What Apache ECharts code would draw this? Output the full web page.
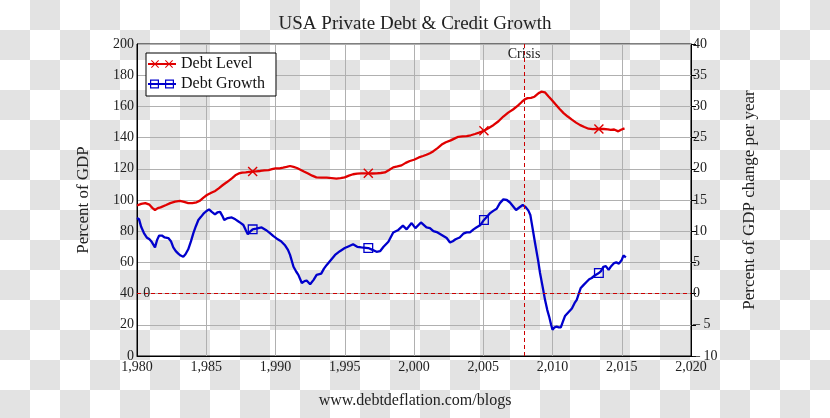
<!DOCTYPE html>
<html>
<head>
<meta charset="utf-8">
<script src="https://cdn.jsdelivr.net/npm/echarts@6/dist/echarts.min.js"></script>
<style>
html,body{margin:0;padding:0;width:830px;height:418px;overflow:hidden;
background:repeating-conic-gradient(#e3e3e3 0 25%, #ffffff 0 50%) 0 0/60px 60px;}
#c{width:830px;height:418px;}
</style>
</head>
<body>
<div id="c"></div>
<script>
// ---- data ----
const levelYears = [1980.0,1980.3,1980.6,1980.9,1981.1,1981.3,1981.5,1981.7,1982.1,1982.4,1982.75,1983.1,1983.4,1983.7,1984.0,1984.3,1984.55,1984.8,1985.05,1985.4,1985.65,1985.9,1986.2,1986.5,1986.85,1987.1,1987.35,1987.6,1987.85,1988.1,1988.35,1988.6,1988.9,1989.2,1989.5,1989.75,1990.0,1990.3,1990.55,1990.8,1991.05,1991.3,1991.55,1991.8,1992.05,1992.35,1992.65,1992.95,1993.3,1993.7,1994.05,1994.4,1994.7,1995.0,1995.3,1995.6,1995.9,1996.2,1996.7,1997.0,1997.3,1997.6,1997.9,1998.2,1998.5,1998.8,1999.1,1999.4,1999.7,2000.0,2000.35,2000.65,2000.9,2001.15,2001.4,2001.7,2002.0,2002.3,2002.65,2002.95,2003.2,2003.5,2003.8,2004.1,2004.4,2004.7,2005.05,2005.4,2005.75,2006.1,2006.45,2006.8,2007.15,2007.5,2007.8,2008.0,2008.2,2008.45,2008.7,2009.0,2009.2,2009.45,2009.7,2009.95,2010.2,2010.5,2010.8,2011.1,2011.4,2011.7,2012.0,2012.3,2012.6,2012.9,2013.15,2013.35,2013.7,2014.0,2014.2,2014.45,2014.75,2014.95,2015.2];
const levelValues = [96.5,97.5,98.0,97.0,95.0,93.6,94.8,95.3,96.8,98.0,98.9,99.4,98.8,98.0,98.0,98.5,99.6,101.5,103.2,104.8,105.8,107.5,109.6,111.5,113.9,115.8,117.0,117.5,117.7,118.0,118.2,118.4,118.6,119.0,119.2,119.8,120.3,120.3,120.7,121.2,121.8,121.2,120.5,119.4,118.3,117.0,115.6,114.5,114.3,114.3,114.0,113.7,114.0,114.5,115.6,116.5,116.9,117.1,117.1,117.0,117.1,117.3,117.7,119.2,120.9,121.5,122.2,123.8,125.0,125.8,127.3,128.2,129.0,130.0,131.3,133.3,135.5,137.0,138.2,139.5,140.5,140.8,141.0,141.5,142.3,143.2,144.4,146.2,148.1,150.5,153.5,156.0,158.0,160.5,163.0,164.5,165.3,165.5,166.2,168.5,169.4,169.0,166.5,164.1,161.5,158.5,155.7,153.5,151.5,149.6,148.0,146.8,145.7,145.4,145.5,145.5,145.5,145.3,145.0,145.2,144.0,145.0,145.9];

const growthYears = [1980.0,1980.15,1980.3,1980.5,1980.7,1980.9,1981.06,1981.3,1981.45,1981.6,1981.8,1982.0,1982.26,1982.45,1982.62,1982.8,1982.98,1983.15,1983.34,1983.5,1983.7,1983.9,1984.07,1984.25,1984.43,1984.62,1984.8,1985.0,1985.2,1985.4,1985.63,1985.8,1986.0,1986.15,1986.3,1986.55,1986.84,1987.1,1987.3,1987.5,1987.68,1987.85,1988.0,1988.15,1988.35,1988.6,1989.0,1989.3,1989.6,1989.85,1990.1,1990.4,1990.7,1990.9,1991.05,1991.3,1991.5,1991.65,1991.9,1992.1,1992.25,1992.5,1992.75,1992.97,1993.3,1993.5,1993.7,1994.0,1994.3,1994.65,1995.0,1995.3,1995.6,1995.9,1996.2,1996.7,1997.0,1997.3,1997.55,1997.8,1998.15,1998.5,1998.87,1999.2,1999.47,1999.83,2000.1,2000.5,2000.9,2001.15,2001.4,2001.7,2002.0,2002.36,2002.6,2002.8,2003.0,2003.3,2003.56,2003.8,2004.04,2004.3,2004.5,2004.8,2005.05,2005.3,2005.5,2005.75,2005.97,2006.2,2006.45,2006.7,2006.93,2007.15,2007.37,2007.6,2007.85,2008.05,2008.26,2008.4,2008.5,2008.74,2008.97,2009.1,2009.33,2009.46,2009.62,2009.77,2009.9,2010.0,2010.15,2010.3,2010.45,2010.6,2010.75,2010.9,2011.15,2011.4,2011.6,2011.75,2011.9,2012.04,2012.25,2012.47,2012.65,2012.83,2013.05,2013.35,2013.5,2013.67,2013.85,2014.05,2014.2,2014.45,2014.6,2014.8,2015.0,2015.12,2015.3];
const growthValues = [12.1,11.9,10.7,9.7,9.0,8.7,8.3,7.4,8.6,9.3,9.3,9.0,8.9,8.4,7.4,6.8,6.4,6.1,5.9,6.3,7.1,8.4,9.7,10.8,11.8,12.3,12.8,13.2,13.5,13.1,12.7,13.0,13.1,12.5,11.8,12.1,12.2,11.9,11.6,11.3,11.0,10.2,9.5,9.9,10.3,10.4,10.6,10.2,9.7,9.2,8.8,8.4,7.7,7.0,6.2,4.3,3.5,3.0,1.7,2.0,2.1,1.5,2.2,3.0,3.2,4.0,4.6,5.4,6.2,6.8,7.3,7.6,7.9,7.5,7.4,7.3,7.0,6.7,6.8,7.5,8.3,9.8,10.2,10.9,10.3,11.3,10.5,11.4,10.6,10.5,10.0,9.8,9.4,8.9,8.2,8.4,8.7,9.0,9.6,9.8,9.8,10.3,10.6,11.0,11.8,12.4,12.9,13.3,13.6,14.5,15.1,15.0,14.6,14.0,13.4,13.8,14.2,13.9,13.3,12.6,11.3,8.1,5.2,3.3,0.6,-1.0,-2.6,-3.8,-5.0,-5.8,-5.4,-5.3,-5.4,-5.4,-4.5,-3.6,-3.0,-2.4,-1.5,-1.0,0.0,0.9,1.4,1.9,2.3,2.5,2.9,3.3,3.6,4.3,4.4,3.8,4.3,4.9,5.0,4.8,5.4,6.1,5.8];

const markerYears = [1988.35, 1996.7, 2005.05, 2013.35];
const crisisYear = 2007.95;
const xTicks = [1980, 2020, 5];      // min, max, step
const leftTicks = [0, 200, 20];
const rightTicks = [-10, 40, 5];

// ---- styling ----
const FONT = "'Liberation Serif','Times New Roman',serif";
const RED = '#e00000', BLUE = '#0000cc', DASH = '#cc0000';
const X_SYM = 'path://M0,1 L1,0 L5,4 L9,0 L10,1 L6,5 L10,9 L9,10 L5,6 L1,10 L0,9 L4,5 Z';
const SQ_SYM = 'path://M0,0 H10 V10 H0 Z M1.3,1.3 V8.7 H8.7 V1.3 Z';
const RED_ICON = 'path://M0,5.1 H28 V6.9 H0 Z M3,2.7 L3.7,2 L7,5.3 L10.3,2 L11,2.7 L7.7,6 L11,9.3 L10.3,10 L7,6.7 L3.7,10 L3,9.3 L6.3,6 Z M17,2.7 L17.7,2 L21,5.3 L24.3,2 L25,2.7 L21.7,6 L25,9.3 L24.3,10 L21,6.7 L17.7,10 L17,9.3 L20.3,6 Z';
const BLUE_ICON = 'path://M0,5.1 H28 V6.9 H0 Z M2,1.5 H11 V10.5 H2 Z M3.2,2.7 V9.3 H9.8 V2.7 Z M17,1.5 H26 V10.5 H17 Z M18.2,2.7 V9.3 H24.8 V2.7 Z';

const pair = (xs, ys) => xs.map((x, i) => [x, ys[i]]);
const isMarker = x => markerYears.some(m => Math.abs(m - x) < 1e-6);
const hiddenPoint = {symbol: 'circle', symbolSize: 2, itemStyle: {color: 'rgba(0,0,0,0)'}};

const chart = echarts.init(document.getElementById('c'), null, {renderer: 'canvas'});
chart.setOption({
  backgroundColor: 'transparent',
  animation: false,
  title: [
    {text: 'USA Private Debt & Credit Growth', left: 'center', top: 10,
     textStyle: {fontFamily: FONT, fontSize: 19, fontWeight: 'normal', color: '#222'}},
    {text: 'www.debtdeflation.com/blogs', left: 'center', top: 388,
     textStyle: {fontFamily: FONT, fontSize: 16, fontWeight: 'normal', color: '#222'}}
  ],
  legend: {
    left: 146, top: 53, orient: 'vertical',
    padding: [2, 11, 3, 2], itemGap: 2,
    itemWidth: 28, itemHeight: 10,
    backgroundColor: '#fff', borderColor: '#000', borderWidth: 1, borderRadius: 0,
    textStyle: {fontFamily: FONT, fontSize: 16, color: '#111', lineHeight: 18},
    itemStyle: {borderWidth: 0},
    data: [{name: 'Debt Level', icon: RED_ICON}, {name: 'Debt Growth', icon: BLUE_ICON}]
  },
  grid: {left: 137, right: 139, top: 44, bottom: 62, show: true, borderColor: '#000', borderWidth: 1, backgroundColor: 'transparent'},
  xAxis: {
    type: 'value', min: xTicks[0], max: xTicks[1], interval: xTicks[2],
    axisLine: {lineStyle: {color: '#000', width: 1}},
    axisTick: {show: false},
    splitLine: {lineStyle: {color: '#b0b0b0', width: 1}},
    axisLabel: {fontFamily: FONT, fontSize: 14, color: '#222', margin: 4}
  },
  yAxis: [
    {type: 'value', min: leftTicks[0], max: leftTicks[1], interval: leftTicks[2],
     name: 'Percent of GDP', nameLocation: 'middle', nameGap: 45,
     nameTextStyle: {fontFamily: FONT, fontSize: 17, color: '#222'},
     axisLine: {show: true, lineStyle: {color: '#000'}},
     axisTick: {show: false},
     splitLine: {lineStyle: {color: '#b0b0b0', width: 1}},
     axisLabel: {fontFamily: FONT, fontSize: 14, color: '#222', margin: 3}},
    {type: 'value', min: rightTicks[0], max: rightTicks[1], interval: rightTicks[2],
     position: 'right',
     name: 'Percent of GDP change per year', nameLocation: 'middle', nameGap: 50,
     nameTextStyle: {fontFamily: FONT, fontSize: 17, color: '#222'},
     axisLine: {show: true, lineStyle: {color: '#000'}},
     axisTick: {show: true, length: 5, inside: false, lineStyle: {color: '#000'}},
     splitLine: {show: false},
     axisLabel: {fontFamily: FONT, fontSize: 14, color: '#222', margin: 2,
       formatter: v => v < 0 ? '\u2013 ' + Math.abs(v) : String(v)}}
  ],
  series: [
    {name: 'Debt Level', type: 'line', yAxisIndex: 0,
     data: pair(levelYears, levelValues),
     showSymbol: true, showAllSymbol: true,
     symbol: (v) => isMarker(v[0]) ? X_SYM : 'none', symbolSize: 10,
     itemStyle: {color: RED}, lineStyle: {color: RED, width: 2.3},
     z: 3,
     markLine: {silent: true, symbol: 'none', label: {show: false},
       lineStyle: {color: DASH, type: [4, 3], width: 1},
       data: [{xAxis: crisisYear}]},
     markPoint: Object.assign({silent: true,
       label: {show: true, position: 'inside', formatter: 'Crisis', fontFamily: FONT, fontSize: 14, color: '#222'},
       data: [{coord: [crisisYear, 193.5]}]}, hiddenPoint)
    },
    {name: 'Debt Growth', type: 'line', yAxisIndex: 1,
     data: pair(growthYears, growthValues),
     showSymbol: true, showAllSymbol: true,
     symbol: (v) => isMarker(v[0]) ? SQ_SYM : 'none', symbolSize: 10,
     itemStyle: {color: BLUE}, lineStyle: {color: BLUE, width: 2.3},
     z: 3,
     markLine: {silent: true, symbol: 'none', label: {show: false},
       lineStyle: {color: DASH, type: [4, 3], width: 1},
       data: [{yAxis: 0}]},
     markPoint: Object.assign({silent: true,
       label: {show: true, position: 'inside', formatter: '0', fontFamily: FONT, fontSize: 14, color: '#222'},
       data: [{coord: [1980.7, 0]}]}, hiddenPoint)
    }
  ]
});
</script>
</body>
</html>
